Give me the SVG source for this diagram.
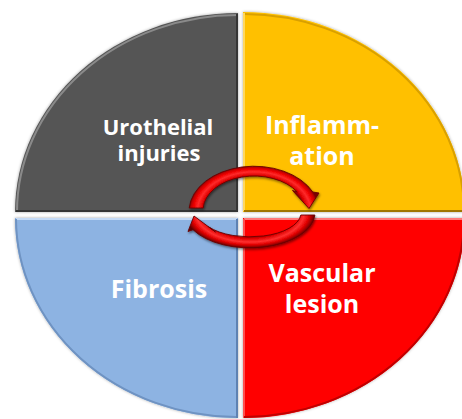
<svg xmlns="http://www.w3.org/2000/svg" width="462" height="419" viewBox="0 0 462 419">
<defs>
<style>
.lbl{font-family:"Open Sans","DejaVu Sans",sans-serif;font-weight:bold;fill:#fff;text-anchor:middle}
.edge{fill:none;stroke-width:2}
.arrow{stroke:#6a0000;stroke-width:0.9;filter:url(#ash)}
</style>
<filter id="sh" x="-5%" y="-5%" width="110%" height="110%">
<feDropShadow dx="0" dy="0" stdDeviation="1.5" flood-color="#000" flood-opacity="0.35"/>
</filter>
<filter id="ash" x="-10%" y="-20%" width="120%" height="140%">
<feDropShadow dx="0.8" dy="1.5" stdDeviation="1" flood-color="#000" flood-opacity="0.5"/>
</filter>
<radialGradient id="gradTop" gradientUnits="userSpaceOnUse" cx="0" cy="0" r="1" gradientTransform="translate(254 211) scale(65 45)">
<stop offset="0.76" stop-color="#8a0000"/>
<stop offset="0.80" stop-color="#dd0000"/>
<stop offset="0.87" stop-color="#ff2a2a"/>
<stop offset="0.93" stop-color="#ee0000"/>
<stop offset="0.97" stop-color="#c00000"/>
<stop offset="1" stop-color="#7a0000"/>
</radialGradient>
<radialGradient id="gradBot" gradientUnits="userSpaceOnUse" cx="0" cy="0" r="1" gradientTransform="translate(250 213) scale(65 35)">
<stop offset="0.66" stop-color="#8a0000"/>
<stop offset="0.73" stop-color="#dd0000"/>
<stop offset="0.83" stop-color="#ff3030"/>
<stop offset="0.91" stop-color="#e00000"/>
<stop offset="0.96" stop-color="#a00000"/>
<stop offset="1" stop-color="#600000"/>
</radialGradient>
</defs>
<rect width="462" height="419" fill="#fff"/>
<g id="urothelial-injuries">
<path d="M238,212 L15,212 A223,199 0 0 1 238,13 Z" fill="#555555" filter="url(#sh)"/>
<path class="edge" d="M17,212 A221,197 0 0 1 238,15" stroke="#8a8a8a"/>
<path class="edge" d="M237,14 L237,211 L16,211" stroke="#353535"/>
<text class="lbl" x="158" y="135" font-size="22">Urothelial</text>
<text class="lbl" x="159" y="161" font-size="22">injuries</text>
</g>
<g id="inflammation">
<path d="M243,212 L243,12 A222,200 0 0 1 465,212 Z" fill="#FFC000" filter="url(#sh)"/>
<path class="edge" d="M244,14 A221,198 0 0 1 464,211" stroke="#d9a000" stroke-width="1.5"/>
<path class="edge" d="M244,13 L244,211" stroke="#ffd860"/>
<path class="edge" d="M244,211 L464,211" stroke="#a07600"/>
<text class="lbl" x="322" y="134" font-size="25">Inflamm-</text>
<text class="lbl" x="322" y="165" font-size="25">ation</text>
</g>
<g id="fibrosis">
<path d="M238,218 L238,418 A223,200 0 0 1 15,218 Z" fill="#8DB3E2" filter="url(#sh)"/>
<path class="edge" d="M16,219 L237,219" stroke="#c4daf6"/>
<path class="edge" d="M237,219 L237,418" stroke="#5e82b2"/>
<path class="edge" d="M236,417 A222,199 0 0 1 16,219" stroke="#6f93c2" stroke-width="1.2"/>
<text class="lbl" x="159" y="298" font-size="25">Fibrosis</text>
</g>
<g id="vascular-lesion">
<path d="M243,218 L465,218 A222,200 0 0 1 243,418 Z" fill="#FF0000" filter="url(#sh)"/>
<path class="edge" d="M244,219 L464,219" stroke="#ff7a7a"/>
<path class="edge" d="M244,219 L244,418" stroke="#ff5050" stroke-width="1.2"/>
<path class="edge" d="M464,219 A221,199 0 0 1 244,417" stroke="#c00000" stroke-width="1.5"/>
<text class="lbl" x="322" y="282" font-size="25">Vascular</text>
<text class="lbl" x="322" y="313" font-size="25">lesion</text>
</g>
<g id="connectors">
<path class="arrow" d="M189.2,208 A65,45 0 0 1 312.8,192 L319,193 L309,208.5 L292.5,190.5 L297.3,192 A51,34 0 0 0 203.2,208 Z" fill="url(#gradTop)"/>
<path class="arrow" d="M314.9,215 A65,35 0 0 1 193,229.7 L188,231.5 L194,216 L215.5,232 L208.5,226.8 A51,24 0 0 0 300.8,215 Z" fill="url(#gradBot)"/>
</g>
</svg>
